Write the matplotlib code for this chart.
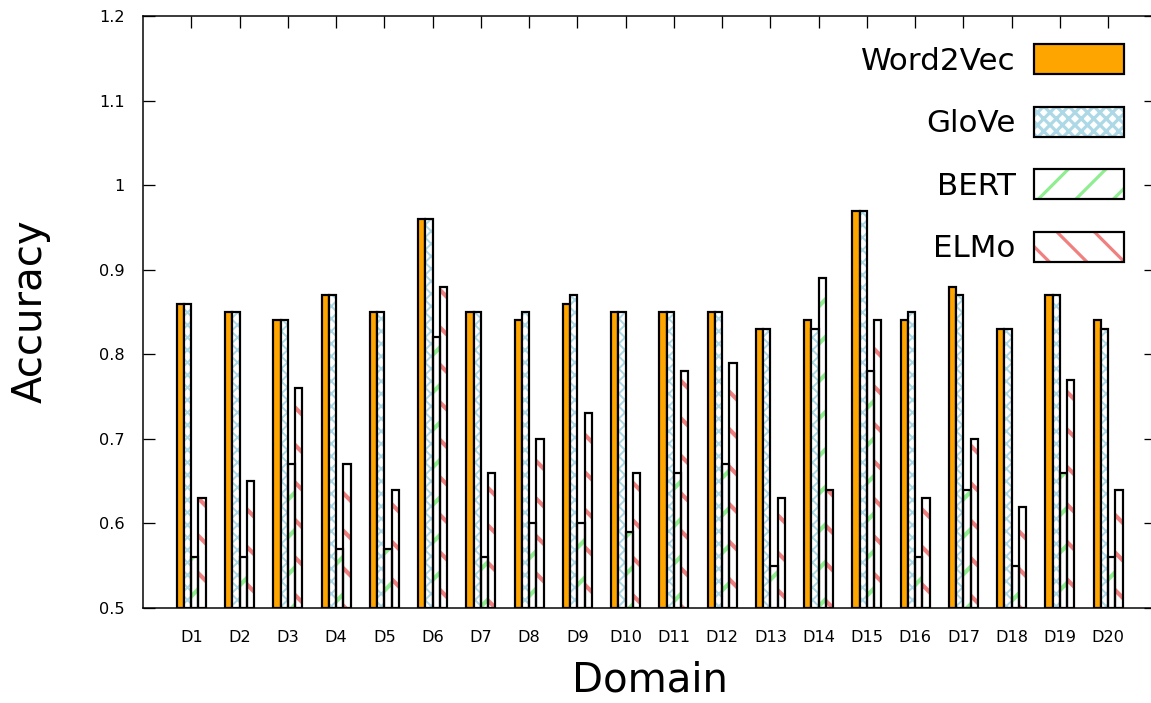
import matplotlib
matplotlib.use('Agg')
import matplotlib.pyplot as plt
import matplotlib.patches as mpatches
from matplotlib.legend_handler import HandlerTuple
import numpy as np

# data
domains = ['D%d' % i for i in range(1, 21)]
word2vec = [0.86, 0.85, 0.84, 0.87, 0.85, 0.96, 0.85, 0.84, 0.86, 0.85,
            0.85, 0.85, 0.83, 0.84, 0.97, 0.84, 0.88, 0.83, 0.87, 0.84]
glove = [0.86, 0.85, 0.84, 0.87, 0.85, 0.96, 0.85, 0.85, 0.87, 0.85,
         0.85, 0.85, 0.83, 0.83, 0.97, 0.85, 0.87, 0.83, 0.87, 0.83]
bert = [0.56, 0.56, 0.67, 0.57, 0.57, 0.82, 0.56, 0.60, 0.60, 0.59,
        0.66, 0.67, 0.55, 0.89, 0.78, 0.56, 0.64, 0.55, 0.66, 0.56]
elmo = [0.63, 0.65, 0.76, 0.67, 0.64, 0.88, 0.66, 0.70, 0.73, 0.66,
        0.78, 0.79, 0.63, 0.64, 0.84, 0.63, 0.70, 0.62, 0.77, 0.64]
series_names = ['Word2Vec', 'GloVe', 'BERT', 'ELMo']
yticks = [0.5, 0.6, 0.7, 0.8, 0.9, 1.0, 1.1, 1.2]
ytick_labels = ['0.5', '0.6', '0.7', '0.8', '0.9', '1', '1.1', '1.2']

# high dpi so the hatch stripes come out as sparse as in the reference
DPI = 225
S = 100.0 / DPI          # points given for 100 dpi -> points at DPI
PX = 72.0 / DPI          # one pixel in points

plt.rcParams['font.family'] = 'DejaVu Sans'
plt.rcParams['hatch.linewidth'] = 3.2 * PX

fig = plt.figure(figsize=(1151 / DPI, 703 / DPI), dpi=DPI)
ax = fig.add_axes([143 / 1151, 95 / 703, 21 * 48.26 / 1151, 592 / 703])

x = np.arange(1, 21)
w = 0.15
styles = [
    dict(face='#FFA500', hcol=None, hatch=None, hlw=0),
    dict(face='white', hcol='#ADD8E6', hatch='xxxxxx', hlw=2.0 * PX),
    dict(face='white', hcol='#90EE90', hatch='//', hlw=4.2 * PX),
    dict(face='white', hcol='#F08080', hatch='\\\\', hlw=4.2 * PX),
]
edge_lw = 2.2 * PX
base = 0.5


def set_hlw(patches, lw):
    for p in patches:
        if hasattr(p, 'set_hatch_linewidth'):
            p.set_hatch_linewidth(lw)


handles = []
for k, (vals, st) in enumerate(zip([word2vec, glove, bert, elmo], styles)):
    pos = x + (k - 1.5) * w
    heights = np.array(vals) - base
    if st['hatch'] is None:
        ax.bar(pos, heights, w, bottom=base, color=st['face'],
               edgecolor='black', linewidth=edge_lw, zorder=3)
        h = mpatches.Patch(facecolor=st['face'], edgecolor='black', linewidth=edge_lw)
    else:
        with plt.rc_context({'hatch.linewidth': st['hlw']}):
            # hatch layer first, black outline drawn on top of it
            bars = ax.bar(pos, heights, w, bottom=base, color=st['face'],
                          edgecolor=st['hcol'], hatch=st['hatch'], linewidth=0, zorder=3)
            hp = mpatches.Patch(facecolor=st['face'], edgecolor=st['hcol'],
                                hatch=st['hatch'], linewidth=0)
        set_hlw(list(bars) + [hp], st['hlw'])
        ax.bar(pos, heights, w, bottom=base, fill=False,
               edgecolor='black', linewidth=edge_lw, zorder=4)
        h = (hp, mpatches.Patch(fill=False, edgecolor='black', linewidth=edge_lw))
    handles.append(h)

ax.set_xlim(0, 21)
ax.set_ylim(0.5, 1.2)
ax.set_yticks(yticks)
ax.set_yticklabels(ytick_labels)
ax.set_xticks(x)
ax.set_xticklabels(domains)

for sp in ax.spines.values():
    sp.set_linewidth(1.5 * PX)
ax.tick_params(axis='y', direction='in', length=12 * PX, width=1.3 * PX,
               left=True, right=True, labelsize=11.6 * S, pad=18 * PX)
ax.tick_params(axis='x', direction='in', length=12 * PX, width=1.3 * PX,
               bottom=False, top=True, labelsize=11.6 * S, pad=22 * PX)

fig.text(31 / 1151, 1 - 311 / 703, 'Accuracy', rotation=90,
         ha='center', va='center', fontsize=29 * S)
fig.text(650 / 1151, 1 - 692 / 703, 'Domain', ha='center', va='baseline',
         fontsize=29 * S)

fs = 22.3 * S
leg = ax.legend(handles, series_names, loc='upper right',
                bbox_to_anchor=(1123.5 / 1151, 1 - 44 / 703),
                bbox_transform=fig.transFigure, frameon=False,
                markerfirst=False, fontsize=fs, borderpad=0, borderaxespad=0,
                handlelength=2.9, handleheight=1.12, handletextpad=0.58,
                labelspacing=1.0,
                handler_map={tuple: HandlerTuple(ndivide=1, pad=0)})
for t in leg.get_texts():
    t.set_ha('right')

fig.savefig('out.png', dpi=DPI)
